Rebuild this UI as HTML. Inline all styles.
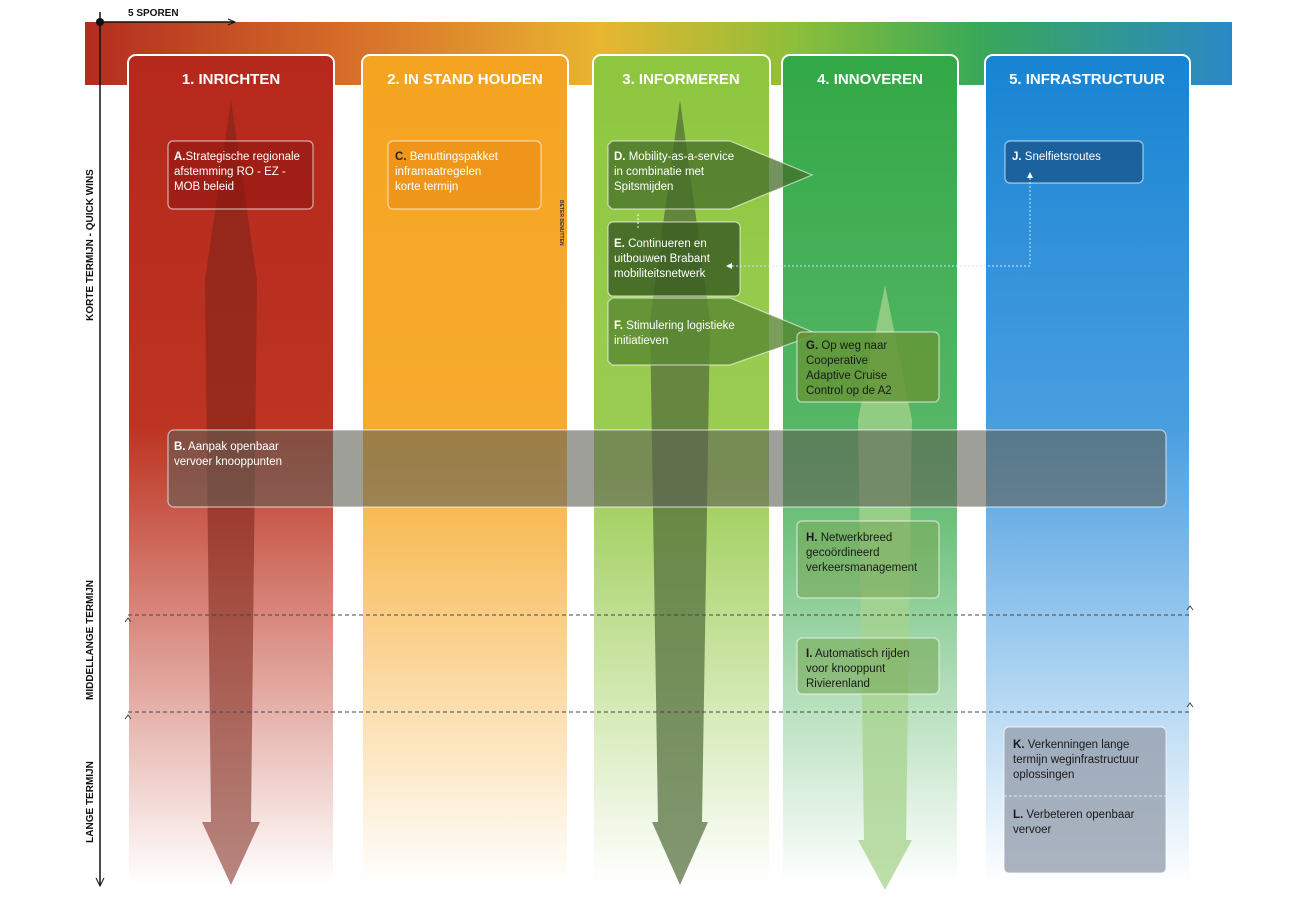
<!DOCTYPE html>
<html><head><meta charset="utf-8"><style>
body{margin:0;background:#fff;width:1304px;height:898px;overflow:hidden;font-family:"Liberation Sans",sans-serif}
svg text{font-family:"Liberation Sans",sans-serif}
</style></head><body>
<svg width="1304" height="898" viewBox="0 0 1304 898" xmlns="http://www.w3.org/2000/svg">
<defs>
<linearGradient id="band" x1="0" x2="1" y1="0" y2="0">
<stop offset="0" stop-color="#b22c1f"/><stop offset="0.25" stop-color="#d9742a"/><stop offset="0.45" stop-color="#e8b630"/><stop offset="0.62" stop-color="#8cbf3a"/><stop offset="0.78" stop-color="#38a858"/><stop offset="1" stop-color="#2b88c8"/></linearGradient>
<linearGradient id="c1" x1="0" x2="0" y1="0" y2="1"><stop offset="0" stop-color="#b5281c"/><stop offset="0.45" stop-color="#bd3422"/><stop offset="1" stop-color="#fff"/></linearGradient>
<linearGradient id="c2" x1="0" x2="0" y1="0" y2="1"><stop offset="0" stop-color="#f5a421"/><stop offset="0.45" stop-color="#f7ab2e"/><stop offset="1" stop-color="#fff"/></linearGradient>
<linearGradient id="c3" x1="0" x2="0" y1="0" y2="1"><stop offset="0" stop-color="#8ec63f"/><stop offset="0.5" stop-color="#9ccd55"/><stop offset="1" stop-color="#fff"/></linearGradient>
<linearGradient id="c4" x1="0" x2="0" y1="0" y2="1"><stop offset="0" stop-color="#32a846"/><stop offset="0.5" stop-color="#5ab86a"/><stop offset="1" stop-color="#fff"/></linearGradient>
<linearGradient id="c5" x1="0" x2="0" y1="0" y2="1"><stop offset="0" stop-color="#1784d2"/><stop offset="0.45" stop-color="#4a9ee0"/><stop offset="1" stop-color="#fff"/></linearGradient>
</defs>
<rect x="85" y="22" width="1147" height="63" fill="url(#band)"/>
<rect x="128" y="55" width="206" height="830" rx="8" fill="url(#c1)" stroke="#fff" stroke-width="2"/>
<rect x="362" y="55" width="206" height="830" rx="8" fill="url(#c2)" stroke="#fff" stroke-width="2"/>
<rect x="593" y="55" width="177" height="830" rx="8" fill="url(#c3)" stroke="#fff" stroke-width="2"/>
<rect x="782" y="55" width="176" height="830" rx="8" fill="url(#c4)" stroke="#fff" stroke-width="2"/>
<rect x="985" y="55" width="205" height="830" rx="8" fill="url(#c5)" stroke="#fff" stroke-width="2"/>
<g fill="#fff" font-weight="bold" font-size="15" text-anchor="middle">
<text x="231" y="84">1. INRICHTEN</text><text x="465" y="84">2. IN STAND HOUDEN</text><text x="681" y="84">3. INFORMEREN</text><text x="870" y="84">4. INNOVEREN</text><text x="1087" y="84">5. INFRASTRUCTUUR</text></g>
<!-- big arrows -->
<polygon points="231,100 257,280 251,822 260,822 231,885 202,822 211,822 205,280" fill="#7a2418" opacity="0.55"/>
<polygon points="680,100 710,320 702,822 708,822 680,885 652,822 658,822 650,320" fill="#4e6a37" opacity="0.7"/>
<polygon points="885,285 912,420 906,840 912,840 885,890 858,840 864,840 858,420" fill="#a7d38e" opacity="0.75"/>
<!-- boxes -->
<g stroke="rgba(255,255,255,0.6)" stroke-width="1.2">
<rect x="168" y="141" width="145" height="68" rx="5" fill="rgba(140,20,15,0.55)"/>
<rect x="388" y="141" width="153" height="68" rx="5" fill="rgba(235,140,20,0.6)"/>
<polygon points="612,141 730,141 812,175 730,209 612,209 608,205 608,145" fill="rgba(70,110,40,0.75)"/>
<rect x="608" y="222" width="132" height="74" rx="5" fill="rgba(60,95,35,0.85)"/>
<polygon points="612,298 730,298 815,333 815,335 730,365 612,365 608,361 608,302" fill="rgba(90,135,50,0.8)"/>
<rect x="797" y="332" width="142" height="70" rx="5" fill="rgba(100,150,55,0.85)"/>
<rect x="168" y="430" width="998" height="77" rx="6" fill="rgba(95,95,85,0.6)"/>
<rect x="797" y="521" width="142" height="77" rx="5" fill="rgba(120,170,90,0.6)"/>
<rect x="797" y="638" width="142" height="56" rx="5" fill="rgba(120,170,90,0.6)"/>
<rect x="1005" y="141" width="138" height="42" rx="5" fill="rgba(20,70,120,0.6)"/>
<rect x="1004" y="727" width="162" height="146" rx="5" fill="rgba(150,160,175,0.8)"/>
</g>
<line x1="1004" y1="796" x2="1166" y2="796" stroke="#fff" stroke-dasharray="3,2" opacity="0.7"/>
<polyline points="1030,178 1030,266 730,266" fill="none" stroke="#cfe8ff" stroke-dasharray="2,2"/>
<polygon points="726,266 732,263 732,269" fill="#fff"/><polygon points="1030,172 1027,178 1033,178" fill="#fff"/>
<line x1="638" y1="214" x2="638" y2="230" stroke="#fff" stroke-dasharray="2,2"/>
<g fill="#fff" font-size="11.5">
<text x="174" y="160"><tspan font-weight="bold">A.</tspan>Strategische regionale</text><text x="174" y="175">afstemming RO - EZ -</text><text x="174" y="190">MOB beleid</text>
<text x="395" y="160"><tspan font-weight="bold" fill="#222">C.</tspan> Benuttingspakket</text><text x="395" y="175">inframaatregelen</text><text x="395" y="190">korte termijn</text>
<text x="614" y="160"><tspan font-weight="bold">D.</tspan> Mobility-as-a-service</text><text x="614" y="175">in combinatie met</text><text x="614" y="190">Spitsmijden</text>
<text x="614" y="247"><tspan font-weight="bold">E.</tspan> Continueren en</text><text x="614" y="262">uitbouwen Brabant</text><text x="614" y="277">mobiliteitsnetwerk</text>
<text x="614" y="329"><tspan font-weight="bold">F.</tspan> Stimulering logistieke</text><text x="614" y="344">initiatieven</text>
<text x="174" y="450"><tspan font-weight="bold">B.</tspan> Aanpak openbaar</text><text x="174" y="465">vervoer knooppunten</text>
<text x="1012" y="160"><tspan font-weight="bold">J.</tspan> Snelfietsroutes</text>
</g>
<g fill="#1a1a1a" font-size="11.5">
<text x="806" y="349"><tspan font-weight="bold">G.</tspan> Op weg naar</text><text x="806" y="364">Cooperative</text><text x="806" y="379">Adaptive Cruise</text><text x="806" y="394">Control op de A2</text>
<text x="806" y="541"><tspan font-weight="bold">H.</tspan> Netwerkbreed</text><text x="806" y="556">gecoördineerd</text><text x="806" y="571">verkeersmanagement</text>
<text x="806" y="657"><tspan font-weight="bold">I.</tspan> Automatisch rijden</text><text x="806" y="672">voor knooppunt</text><text x="806" y="687">Rivierenland</text>
<text x="1013" y="748"><tspan font-weight="bold">K.</tspan> Verkenningen lange</text><text x="1013" y="763">termijn weginfrastructuur</text><text x="1013" y="778">oplossingen</text>
<text x="1013" y="818"><tspan font-weight="bold">L.</tspan> Verbeteren openbaar</text><text x="1013" y="833">vervoer</text>
</g>
<text transform="translate(560,200) rotate(90)" font-size="5" font-weight="bold" fill="#333">BETER BENUTTEN</text>
<!-- dashed horizons -->
<g stroke="#444" stroke-dasharray="4,3" stroke-width="1"><line x1="128" y1="615" x2="1190" y2="615"/><line x1="128" y1="712" x2="1190" y2="712"/></g>
<g fill="none" stroke="#444"><polyline points="125,622 128,618 131,622"/><polyline points="1187,610 1190,606 1193,610"/><polyline points="125,719 128,715 131,719"/><polyline points="1187,707 1190,703 1193,707"/></g>
<!-- axes -->
<line x1="100" y1="12" x2="100" y2="885" stroke="#111" stroke-width="1.5"/>
<polyline points="96,878 100,886 104,878" fill="none" stroke="#111"/>
<line x1="100" y1="22" x2="234" y2="22" stroke="#111" stroke-width="1.5"/>
<polyline points="228,19 235,22 228,25" fill="none" stroke="#111"/>
<circle cx="100" cy="22" r="4" fill="#111"/>
<text x="128" y="16" font-size="10" font-weight="bold" fill="#111">5 SPOREN</text>
<g font-size="10" font-weight="bold" fill="#111" text-anchor="middle">
<text transform="translate(93,245) rotate(-90)">KORTE TERMIJN - QUICK WINS</text>
<text transform="translate(93,640) rotate(-90)">MIDDELLANGE TERMIJN</text>
<text transform="translate(93,802) rotate(-90)">LANGE TERMIJN</text>
</g>
</svg>
</body></html>
